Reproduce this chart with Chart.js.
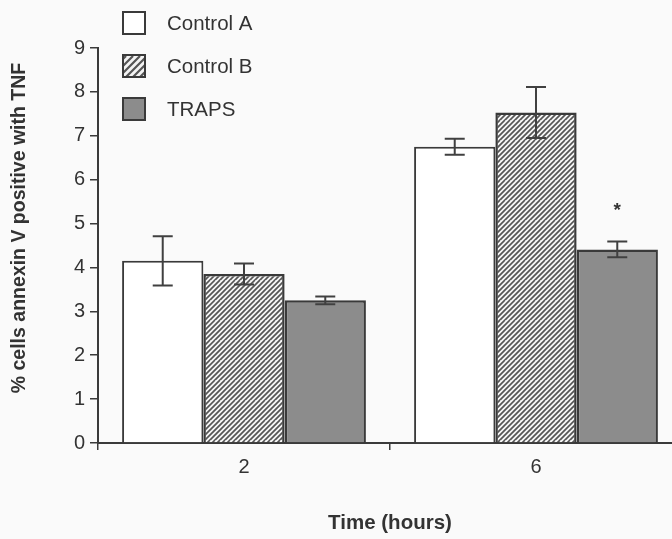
<!DOCTYPE html>
<html>
<head>
<meta charset="utf-8">
<script src="https://cdn.jsdelivr.net/npm/chart.js@4/dist/chart.umd.min.js"></script>
<style>
  html, body { margin: 0; padding: 0; background: #fafafa; overflow: hidden; width: 672px; height: 539px; }
  #wrap { position: relative; width: 690px; height: 539px; }
</style>
</head>
<body>
<div id="wrap"><canvas id="c" width="690" height="539"></canvas></div>
<script>
// ---- data ----
const categories = ['2', '6'];
const seriesNames = ['Control A', 'Control B', 'TRAPS'];
const controlA = [4.15, 6.75];
const controlB = [3.85, 7.53];
const traps = [3.25, 4.41];
const errControlA = [0.56, 0.18];
const errControlB = [0.24, 0.58];
const errTraps = [0.09, 0.18];
const sigTraps = ['', '*'];
const yTicks = [0, 1, 2, 3, 4, 5, 6, 7, 8, 9];

const FONT = '"Liberation Sans", Arial, sans-serif';
const INK = '#3a3a3a';

function hatch(step, lw) {
  const n = 4, P = step * n;
  const p = document.createElement('canvas');
  p.width = P; p.height = P;
  const g = p.getContext('2d');
  g.fillStyle = '#f4f4f4';
  g.fillRect(0, 0, P, P);
  g.strokeStyle = '#555555';
  g.lineWidth = lw;
  g.beginPath();
  for (let c = -P; c <= 2 * P; c += step) {
    g.moveTo(c - P, 2 * P);
    g.lineTo(c + P, 0);
  }
  g.stroke();
  return document.getElementById('c').getContext('2d').createPattern(p, 'repeat');
}

const hatchFill = hatch(5, 1.7);
const hatchLegend = hatch(7, 2.2);

const errors = [errControlA, errControlB, errTraps];
const marks = [null, null, sigTraps];

const errorBarPlugin = {
  id: 'errorBars',
  afterDatasetsDraw(chart) {
    const ctx = chart.ctx;
    const ys = chart.scales.y;
    ctx.save();
    ctx.strokeStyle = '#404040';
    ctx.lineWidth = 2;
    chart.data.datasets.forEach((ds, i) => {
      const meta = chart.getDatasetMeta(i);
      meta.data.forEach((el, j) => {
        const v = ds.data[j], e = errors[i][j];
        const x = el.x;
        const yt = ys.getPixelForValue(v + e);
        const yb = ys.getPixelForValue(v - e);
        const cap = 10;
        ctx.beginPath();
        ctx.moveTo(x, yt); ctx.lineTo(x, yb);
        ctx.moveTo(x - cap, yt); ctx.lineTo(x + cap, yt);
        ctx.moveTo(x - cap, yb); ctx.lineTo(x + cap, yb);
        ctx.stroke();
        if (marks[i] && marks[i][j]) {
          ctx.fillStyle = '#333';
          ctx.font = 'bold 19px ' + FONT;
          ctx.textAlign = 'center';
          ctx.textBaseline = 'middle';
          ctx.fillText(marks[i][j], x, yt - 31);
        }
      });
    });
    ctx.restore();
  }
};

const decorPlugin = {
  id: 'decor',
  afterDraw(chart) {
    const ctx = chart.ctx;
    ctx.save();
    // legend
    const lx = 123, ly0 = 12, gap = 43, box = 22;
    chart.data.datasets.forEach((ds, i) => {
      const y = ly0 + i * gap;
      ctx.fillStyle = i === 1 ? hatchLegend : ds.backgroundColor;
      ctx.fillRect(lx, y, box, box);
      ctx.strokeStyle = INK;
      ctx.lineWidth = 2;
      ctx.strokeRect(lx, y, box, box);
      ctx.fillStyle = '#333';
      ctx.font = '20.5px ' + FONT;
      ctx.textAlign = 'left';
      ctx.textBaseline = 'middle';
      ctx.fillText(ds.label, 167, y + box / 2 + 1);
    });
    // y title
    ctx.fillStyle = '#333';
    ctx.font = 'bold 19.5px ' + FONT;
    ctx.textAlign = 'center';
    ctx.textBaseline = 'middle';
    ctx.translate(20, 228);
    ctx.rotate(-Math.PI / 2);
    ctx.fillText('% cells annexin V positive with TNF', 0, 0);
    ctx.setTransform(1, 0, 0, 1, 0, 0);
    // x title
    ctx.font = 'bold 20.5px ' + FONT;
    ctx.fillText('Time (hours)', 390, 523);
    ctx.restore();
  }
};

const bgPlugin = {
  id: 'bg',
  beforeDraw(chart) {
    const ctx = chart.ctx;
    ctx.save();
    ctx.fillStyle = '#fafafa';
    ctx.fillRect(0, 0, chart.width, chart.height);
    ctx.restore();
  }
};

new Chart(document.getElementById('c'), {
  type: 'bar',
  data: {
    labels: categories,
    datasets: [
      { label: seriesNames[0], data: controlA, backgroundColor: '#ffffff', borderColor: INK, borderWidth: 2 },
      { label: seriesNames[1], data: controlB, backgroundColor: hatchFill, borderColor: INK, borderWidth: 2.5 },
      { label: seriesNames[2], data: traps, backgroundColor: '#8c8c8c', borderColor: INK, borderWidth: 2.5 }
    ]
  },
  options: {
    responsive: false,
    animation: false,
    devicePixelRatio: 1,
    layout: { padding: { top: 48, right: 8, left: 0, bottom: 0 } },
    plugins: { legend: { display: false }, tooltip: { enabled: false } },
    datasets: { bar: { categoryPercentage: 0.835, barPercentage: 1.0 } },
    scales: {
      x: {
        grid: { display: true, drawOnChartArea: false, offset: true, color: INK, lineWidth: 1.5, tickLength: 7 },
        border: { display: true, color: INK, width: 2 },
        ticks: { color: '#333', font: { family: FONT, size: 20 }, padding: 5 },
        afterFit(s) { s.height = 96; }
      },
      y: {
        min: 0, max: 9,
        afterBuildTicks(s) { s.ticks = yTicks.map(v => ({ value: v })); },
        grid: { display: true, drawOnChartArea: false, color: INK, lineWidth: 1.5, tickLength: 8 },
        border: { display: true, color: INK, width: 2 },
        ticks: { color: '#333', font: { family: FONT, size: 20 }, padding: 5 },
        afterFit(s) { s.width = 98; }
      }
    }
  },
  plugins: [bgPlugin, errorBarPlugin, decorPlugin]
});
</script>
</body>
</html>
